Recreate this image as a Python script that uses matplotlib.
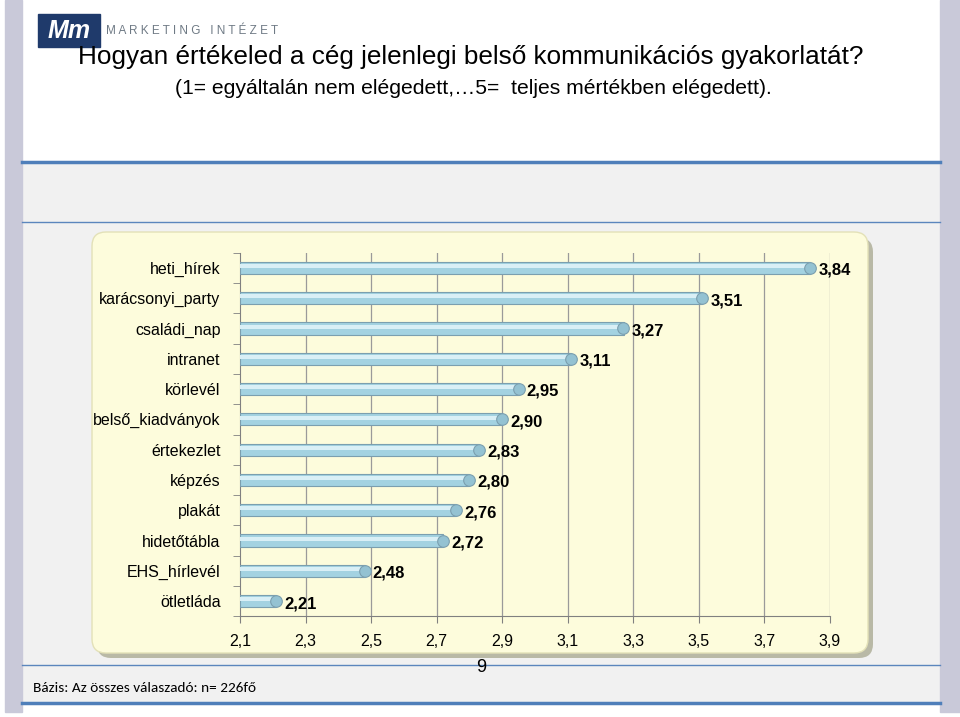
import numpy as np
import matplotlib
matplotlib.use("Agg")
import matplotlib.pyplot as plt
from matplotlib.patches import FancyBboxPatch, Rectangle

# adatok
kategoriak = ["heti_hírek", "karácsonyi_party", "családi_nap", "intranet", "körlevél",
              "belső_kiadványok", "értekezlet", "képzés", "plakát", "hidetőtábla",
              "EHS_hírlevél", "ötletláda"]
ertekek = [3.84, 3.51, 3.27, 3.11, 2.95, 2.90, 2.83, 2.80, 2.76, 2.72, 2.48, 2.21]
tick_ertekek = [2.1, 2.3, 2.5, 2.7, 2.9, 3.1, 3.3, 3.5, 3.7, 3.9]

cim = "Hogyan értékeled a cég jelenlegi belső kommunikációs gyakorlatát?"
alcim = "(1= egyáltalán nem elégedett,…5=  teljes mértékben elégedett)."
bazis = "Bázis: Az összes válaszadó: n= 226fő"

arial = ["Liberation Sans", "DejaVu Sans"]

fig = plt.figure(figsize=(9.6, 7.17), dpi=100)

# háttér (pixel koordináták)
bg = fig.add_axes([0, 0, 1, 1])
bg.set_xlim(0, 960)
bg.set_ylim(717, 0)
bg.axis("off")
bg.add_patch(Rectangle((0, 0), 960, 717, color="white", zorder=0))
bg.add_patch(Rectangle((22, 163), 918, 540, color="#f1f1f1", zorder=1))
bg.add_patch(Rectangle((5, 0), 17, 712, color="#c9c9d9", zorder=2))
bg.add_patch(Rectangle((940, 0), 20, 712, color="#c9c9d9", zorder=2))
bg.plot([22, 940], [162, 162], color="#4f7fba", lw=2.5, zorder=3)
bg.plot([22, 940], [222, 222], color="#5b86bd", lw=1, zorder=3)
bg.plot([22, 940], [665, 665], color="#5b86bd", lw=1, zorder=3)
bg.plot([22, 940], [703, 703], color="#4f7fba", lw=2.5, zorder=3)

# panel árnyékkal
bg.add_patch(FancyBboxPatch((97, 238), 776, 420, boxstyle="round,pad=0,rounding_size=14",
                            fc="#b9b9a6", ec="none", zorder=4))
bg.add_patch(FancyBboxPatch((92, 232), 776, 421, boxstyle="round,pad=0,rounding_size=14",
                            fc="#fdfcdc", ec="#e3e1b8", lw=1, zorder=5))

# logo
bg.add_patch(Rectangle((38, 14), 62, 33, color="#1f3a6b", zorder=6))
bg.text(69, 31, "Mm", color="white", fontsize=18, fontstyle="italic", fontweight="bold",
        ha="center", va="center", family=arial, zorder=7)
bg.text(106, 31, "M A R K E T I N G   I N T É Z E T", color="#6f7a85", fontsize=8.5,
        ha="left", va="center", family=arial, zorder=7)

# címek
bg.text(78, 57, cim, fontsize=18.8, ha="left", va="center", family=arial, zorder=7)
bg.text(175, 88, alcim, fontsize=15.2, ha="left", va="center", family=arial, zorder=7)
bg.text(33, 688, bazis, fontsize=11, ha="left", va="center", family=["Carlito", "DejaVu Sans"], zorder=7)
bg.text(481, 668, "9", fontsize=13, ha="center", va="center", family=arial, zorder=7)

# diagram
ax = fig.add_axes([240 / 960, 1 - 616.3 / 717, 590 / 960, 363.6 / 717])
ax.patch.set_alpha(0)
y = np.arange(len(kategoriak))
ax.set_xlim(2.1, 3.9)
ax.set_ylim(len(kategoriak) - 0.5, -0.5)

for t in tick_ertekek[1:]:
    ax.axvline(t, color="#9a9a9a", lw=0.9, zorder=1)

# hengeres oszlopok: alap + fény csík
ax.barh(y, np.array(ertekek) - 2.1, left=2.1, height=0.4, color="#a3d2e1",
        edgecolor="#7b9faf", lw=0.8, zorder=3)
ax.barh(y - 0.06, np.array(ertekek) - 2.1 - 0.01, left=2.1, height=0.13, color="#d9eff6",
        lw=0, zorder=4)
ax.scatter(ertekek, y, s=70, marker="o", color="#94c2d2", edgecolors="#7b9faf",
           linewidths=0.8, zorder=5)

for yi, v in zip(y, ertekek):
    ax.text(v + 0.025, yi + 0.08, f"{v:.2f}".replace(".", ","), fontsize=12,
            fontweight="bold", ha="left", va="center", family=arial, zorder=6)

ax.set_yticks(y)
ax.set_yticklabels(kategoriak, family=arial, fontsize=11.5)
ax.set_yticks(np.arange(len(kategoriak) + 1) - 0.5, minor=True)
ax.tick_params(axis="y", which="major", length=0, pad=14)
ax.tick_params(axis="y", which="minor", length=5, color="#808080")
ax.set_xticks(tick_ertekek)
ax.set_xticklabels([f"{t:.1f}".replace(".", ",") for t in tick_ertekek], family=arial, fontsize=11.5)
ax.tick_params(axis="x", length=5, color="#808080", pad=8)

for s in ["top", "right"]:
    ax.spines[s].set_visible(False)
ax.spines["left"].set_color("#808080")
ax.spines["bottom"].set_color("#808080")

fig.savefig("out.png", dpi=100)
